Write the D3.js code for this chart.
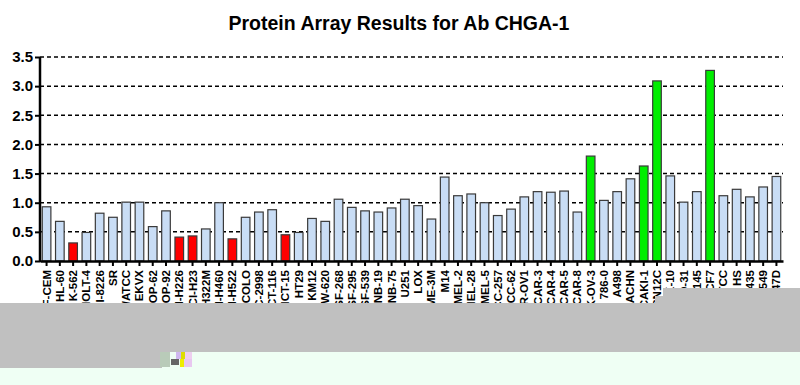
<!DOCTYPE html>
<html>
<head>
<meta charset="utf-8">
<script src="https://cdn.jsdelivr.net/npm/d3@7"></script>
<style>
  body { margin: 0; background: #fff; }
  svg { display: block; font-family: Arial, "Liberation Sans", sans-serif; }
</style>
</head>
<body>
<div id="chart"></div>
<script>
// cell lines (labels are cut off by the band below the axis)
const cellLines = [
  'CCRF-CEM', 'HL-60', 'K-562', 'MOLT-4', 'RPMI-8226', 'SR',
  'A549/ATCC', 'EKVX', 'HOP-62', 'HOP-92', 'NCI-H226', 'NCI-H23', 'NCI-H322M', 'NCI-H460', 'NCI-H522',
  'COLO', 'HCC-2998', 'HCT-116', 'HCT-15', 'HT29', 'KM12', 'SW-620',
  'SF-268', 'SF-295', 'SF-539', 'SNB-19', 'SNB-75', 'U251',
  'LOX', 'MALME-3M', 'M14', 'SK-MEL-2', 'SK-MEL-28', 'SK-MEL-5', 'UACC-257', 'UACC-62',
  'IGR-OV1', 'OVCAR-3', 'OVCAR-4', 'OVCAR-5', 'OVCAR-8', 'SK-OV-3',
  '786-0', 'A498', 'ACHN', 'CAKI-1', 'SN12C', 'TK-10', 'UO-31',
  'DU-145', 'MCF7', 'ADR-RES/ATCC', 'HS', 'MDA-MB-435', 'BT-549', 'T-47D'
]
const values = [
  0.93, 0.68, 0.31, 0.49, 0.82, 0.75,
  1.01, 1.01, 0.59, 0.86, 0.41, 0.43, 0.55, 1.00, 0.38,
  0.75, 0.84, 0.88, 0.45, 0.49, 0.73, 0.68,
  1.06, 0.92, 0.86, 0.84, 0.91, 1.06,
  0.95, 0.72, 1.44, 1.12, 1.15, 1.00, 0.78, 0.89,
  1.10, 1.19, 1.18, 1.20, 0.84, 1.80,
  1.04, 1.19, 1.41, 1.63, 3.09, 1.46, 1.01,
  1.19, 3.27, 1.12, 1.23, 1.10, 1.27, 1.45
]
// 'n' normal, 'low' red, 'high' green
const flags = [
  'n', 'n', 'low', 'n', 'n', 'n',
  'n', 'n', 'n', 'n', 'low', 'low', 'n', 'n', 'low',
  'n', 'n', 'n', 'low', 'n', 'n', 'n',
  'n', 'n', 'n', 'n', 'n', 'n',
  'n', 'n', 'n', 'n', 'n', 'n', 'n', 'n',
  'n', 'n', 'n', 'n', 'n', 'high',
  'n', 'n', 'n', 'high', 'high', 'n', 'n',
  'n', 'high', 'n', 'n', 'n', 'n', 'n'
]
const yTicks = [0, 0.5, 1.0, 1.5, 2.0, 2.5, 3.0, 3.5]

const fills = { n: '#c9ddf5', low: '#ff0000', high: '#00ee00' }

const width = 800
const height = 385
const margin = { top: 57, right: 17, bottom: 124, left: 40 }
const innerWidth = width - margin.left - margin.right
const innerHeight = height - margin.top - margin.bottom

const data = cellLines.map((name, i) => ({ name, value: values[i], flag: flags[i] }))

const svg = d3.select('#chart')
  .append('svg')
  .attr('width', width)
  .attr('height', height)

svg.append('text')
  .attr('x', 399)
  .attr('y', 30)
  .attr('text-anchor', 'middle')
  .attr('font-size', '19.5px')
  .attr('font-weight', 'bold')
  .text('Protein Array Results for Ab CHGA-1')

const g = svg.append('g')
  .attr('transform', `translate(${margin.left}, ${margin.top})`)

const xScale = d3.scaleBand()
  .domain(cellLines)
  .range([0, innerWidth])
  .paddingInner(0.35)
  .paddingOuter(0.17)

const yScale = d3.scaleLinear()
  .domain([0, 3.5])
  .range([innerHeight, 0])

// dashed grid lines
g.append('g')
  .selectAll('line')
  .data(yTicks.slice(1))
  .join('line')
  .attr('x1', 0)
  .attr('x2', innerWidth)
  .attr('y1', d => yScale(d))
  .attr('y2', d => yScale(d))
  .attr('stroke', '#000')
  .attr('stroke-width', 1.5)
  .attr('stroke-dasharray', '4,3')

// bars
g.append('g')
  .selectAll('rect')
  .data(data)
  .join('rect')
  .attr('x', d => xScale(d.name))
  .attr('y', d => yScale(d.value))
  .attr('width', xScale.bandwidth())
  .attr('height', d => innerHeight - yScale(d.value))
  .attr('fill', d => fills[d.flag])
  .attr('stroke', '#3a3a3a')
  .attr('stroke-width', 1.2)

// y axis
const yAxis = d3.axisLeft(yScale)
  .tickValues(yTicks)
  .tickFormat(d3.format('.1f'))
  .tickSize(5)
  .tickPadding(2)
const yAxisGroup = g.append('g').call(yAxis)
yAxisGroup.select('.domain').attr('stroke-width', 2.5).attr('d', `M0,${innerHeight + 1}V0`)
yAxisGroup.selectAll('.tick line').attr('stroke-width', 2)
yAxisGroup.selectAll('text')
  .attr('font-size', '15px')
  .attr('font-weight', 'bold')
  .attr('font-family', 'Arial, "Liberation Sans", sans-serif')
  .attr('fill', '#000')

// x axis
const xAxis = d3.axisBottom(xScale).tickSize(5).tickSizeOuter(0)
const xAxisGroup = g.append('g')
  .attr('transform', `translate(0, ${innerHeight})`)
  .call(xAxis)
xAxisGroup.select('.domain').attr('stroke-width', 2.5)
xAxisGroup.selectAll('.tick line').attr('stroke-width', 2)
xAxisGroup.selectAll('text')
  .attr('font-size', '11.5px')
  .attr('font-weight', 'bold')
  .attr('font-family', 'Arial, "Liberation Sans", sans-serif')
  .attr('fill', '#000')
  .attr('text-anchor', 'end')
  .attr('transform', 'rotate(-90)')
  .attr('x', -9)
  .attr('y', 0)
  .attr('dy', '0.35em')

// the grey band and pale strip that cover the lower part of the picture
svg.append('rect').attr('x', 0).attr('y', 352).attr('width', 800).attr('height', 33).attr('fill', '#effff4')
svg.append('rect').attr('x', 0).attr('y', 303).attr('width', 800).attr('height', 49).attr('fill', '#c0c0c0')
svg.append('rect').attr('x', 663).attr('y', 288).attr('width', 137).attr('height', 16).attr('fill', '#c0c0c0')
svg.append('rect').attr('x', 655).attr('y', 296).attr('width', 10).attr('height', 8).attr('fill', '#c0c0c0')
svg.append('rect').attr('x', 0).attr('y', 352).attr('width', 162).attr('height', 16).attr('fill', '#c0c0c0')
svg.append('rect').attr('x', 160).attr('y', 352).attr('width', 10).attr('height', 15).attr('fill', '#b9cbb9')
// small glitch block
const glitch = svg.append('g').attr('transform', 'translate(176, 352)')
glitch.append('rect').attr('x', 0).attr('y', 0).attr('width', 5).attr('height', 7).attr('fill', '#d0b8f0')
glitch.append('rect').attr('x', 5).attr('y', 0).attr('width', 4).attr('height', 7).attr('fill', '#dddd00')
glitch.append('rect').attr('x', 9).attr('y', 0).attr('width', 7).attr('height', 7).attr('fill', '#eecff0')
glitch.append('rect').attr('x', 4).attr('y', 7).attr('width', 4).attr('height', 8).attr('fill', '#eeee00')
glitch.append('rect').attr('x', 8).attr('y', 7).attr('width', 8).attr('height', 8).attr('fill', '#e8c8f0')
glitch.append('rect').attr('x', -5).attr('y', 7).attr('width', 8).attr('height', 6).attr('fill', '#666')
</script>
</body>
</html>
